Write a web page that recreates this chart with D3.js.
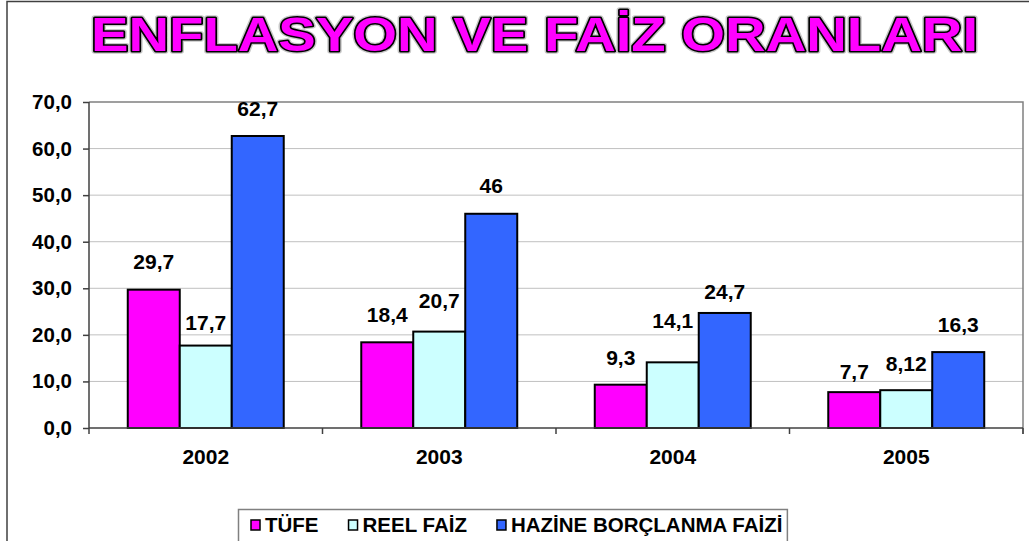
<html>
<head>
<meta charset="utf-8">
<script src="https://d3js.org/d3.v7.min.js"></script>
<style>
  body { margin: 0; background: #fff; }
  svg text { font-family: "Liberation Sans", Arial, sans-serif; font-weight: bold; fill: #000; }
  .grid line { stroke: #c0c0c0; stroke-width: 1px; }
  .axis path, .axis line { stroke: #404040; stroke-width: 1.5px; }
  .bar { stroke: #000; stroke-width: 2px; }
</style>
</head>
<body>
<svg id="chart" width="1029" height="541"></svg>
<script>
// data
const years = ["2002", "2003", "2004", "2005"];
const seriesNames = ["TÜFE", "REEL FAİZ", "HAZİNE BORÇLANMA FAİZİ"];
const tufe = [29.7, 18.4, 9.3, 7.7];
const reelFaiz = [17.7, 20.7, 14.1, 8.12];
const hazineFaizi = [62.7, 46, 24.7, 16.3];
const labelText = [["29,7", "18,4", "9,3", "7,7"], ["17,7", "20,7", "14,1", "8,12"], ["62,7", "46", "24,7", "16,3"]];
const yTicks = [0, 10, 20, 30, 40, 50, 60, 70];

// small manual nudges of the value labels (px, upward), as placed in the original
const labelLift = [[1, 0, 0, -7], [-4, 4, 14, -1], [0, 1, -6, 0]];

const colors = ["#ff00ff", "#ccffff", "#3366ff"];
const values = [tufe, reelFaiz, hazineFaizi];

const svg = d3.select("svg#chart");
const plot = { left: 89, right: 1023, top: 102, bottom: 428 };

// outer frame
svg.append("path")
    .attr("d", "M7,545 V1.5 H1035")
    .attr("fill", "none")
    .attr("stroke", "#404040")
    .attr("stroke-width", 1.5);

// title
const title = "ENFLASYON VE FAİZ ORANLARI";
const tg = svg.append("g");
[["#c8c8c8", 5.5], ["#000", 3], ["none", 0]].forEach(([s, w]) => {
    tg.append("text")
        .attr("x", 91).attr("y", 51)
        .attr("textLength", 887).attr("lengthAdjust", "spacingAndGlyphs")
        .style("font-size", "49px")
        .style("fill", "#ff00ff")
        .style("stroke", s)
        .style("stroke-width", w)
        .style("stroke-linejoin", "round")
        .text(title);
});

// scales
const x0 = d3.scaleBand().domain(years).range([plot.left, plot.right])
    .paddingInner(0.332).paddingOuter(0.166);
const x1 = d3.scaleBand().domain(d3.range(3)).range([0, x0.bandwidth()]);
const y = d3.scaleLinear().domain([0, 70]).range([plot.bottom, plot.top]);

// gridlines
svg.append("g").attr("class", "grid")
    .selectAll("line").data(yTicks.slice(1, -1)).join("line")
    .attr("x1", plot.left).attr("x2", plot.right)
    .attr("y1", d => y(d)).attr("y2", d => y(d));

// plot frame top/right
svg.append("path")
    .attr("d", `M${plot.left},${y(70)} H${plot.right} V${plot.bottom + 6}`)
    .attr("fill", "none").attr("stroke", "#808080").attr("stroke-width", 1.5);

// bars
const bars = svg.append("g");
values.forEach((vals, s) => {
    bars.selectAll(".s" + s).data(vals).join("rect")
        .attr("class", "bar s" + s)
        .attr("x", (d, i) => x0(years[i]) + x1(s))
        .attr("y", d => y(d))
        .attr("width", x1.bandwidth())
        .attr("height", d => y(0) - y(d))
        .attr("fill", colors[s]);
});

// value labels
values.forEach((vals, s) => {
    svg.append("g").selectAll("text").data(vals).join("text")
        .attr("x", (d, i) => x0(years[i]) + x1(s) + x1.bandwidth() / 2)
        .attr("y", (d, i) => y(d) - 20 - labelLift[s][i])
        .attr("text-anchor", "middle")
        .style("font-size", "21px")
        .text((d, i) => labelText[s][i]);
});

// y axis
const yAxis = svg.append("g").attr("class", "axis")
    .attr("transform", `translate(${plot.left},0)`)
    .call(d3.axisLeft(y).tickValues(yTicks).tickSize(6).tickPadding(11)
        .tickFormat(d => d3.format(".1f")(d).replace(".", ",")));
yAxis.select(".domain").attr("d", `M0,${plot.top}V${plot.bottom}`);
yAxis.selectAll("text").style("font-size", "20.5px");

// x axis
const xAxis = svg.append("g").attr("class", "axis")
    .attr("transform", `translate(0,${plot.bottom})`)
    .call(d3.axisBottom(x0).tickSize(0).tickPadding(21));
xAxis.select(".domain").attr("d", `M${plot.left},0H${plot.right}`);
xAxis.selectAll("text").style("font-size", "21px");
xAxis.selectAll(".sep").data(d3.range(years.length + 1)).join("line")
    .attr("class", "sep")
    .attr("x1", i => plot.left + i * x0.step()).attr("x2", i => plot.left + i * x0.step())
    .attr("y1", 0).attr("y2", 6);

// legend
const lg = svg.append("g");
const box = lg.append("rect")
    .attr("y", 509.5).attr("height", 40)
    .attr("fill", "#fff").attr("stroke", "#808080").attr("stroke-width", 1.5);
let cx = 251;
seriesNames.forEach((name, s) => {
    lg.append("rect")
        .attr("x", cx).attr("y", 520).attr("width", 9).attr("height", 10)
        .attr("fill", colors[s]).attr("stroke", "#000").attr("stroke-width", 1.5);
    const t = lg.append("text")
        .attr("x", cx + 14).attr("y", 532)
        .style("font-size", "20.5px")
        .text(name);
    cx += 14 + t.node().getComputedTextLength() + 30;
});
box.attr("x", 238.5).attr("width", cx - 30 + 5 - 238.5);
</script>
</body>
</html>
